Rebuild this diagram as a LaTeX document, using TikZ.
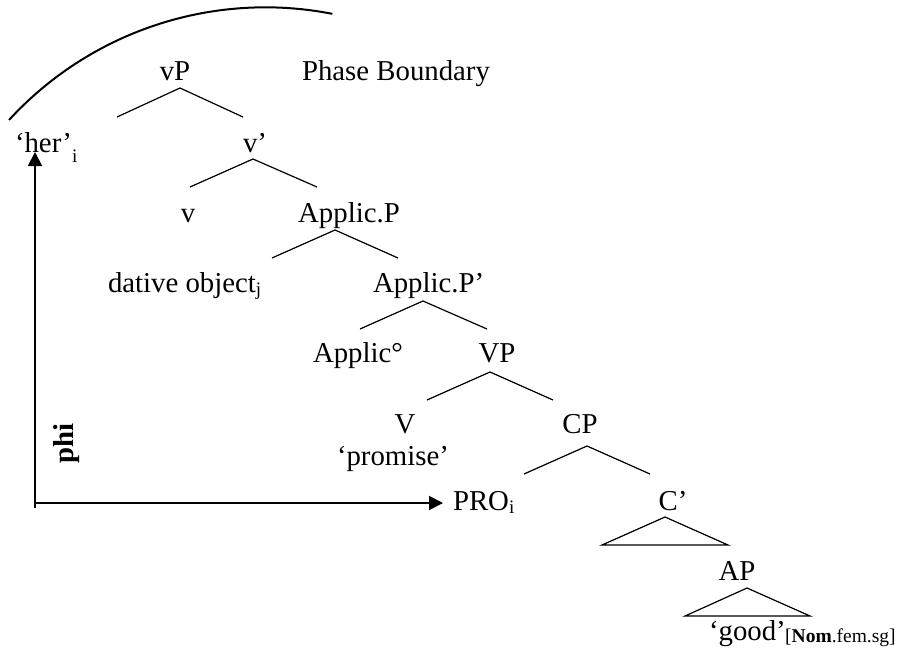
\documentclass[tikz,border=0pt]{standalone}
\usepackage{fontspec}
\setmainfont{Liberation Serif}
\usetikzlibrary{arrows.meta}
\newcommand{\subx}[2]{\raisebox{-#1pt}{\fontsize{19}{19}\selectfont #2}}
\tikzset{
  lbl/.style={inner sep=0pt, outer sep=0pt, font=\fontsize{28.8}{30}\selectfont},
  branch/.style={line width=1.2pt, line join=miter},
  bigarrow/.style={line width=2pt, -{Triangle[width=14pt,length=14pt]}},
}
\begin{document}
\begin{tikzpicture}[x=1pt,y=-1pt]
\useasboundingbox (0,0) rectangle (899,662);
% labels
\node[lbl, anchor=base] (vP) at (175,80) {vP};
\node[lbl, anchor=base west] (phase) at (302,80) {Phase Boundary};
\node[lbl, anchor=base west] (her) at (15,152) {‘her’\subx{10}{i}};
\node[lbl, anchor=base] (vbar) at (255,152) {v’};
\node[lbl, anchor=base] (v) at (188,222) {v};
\node[lbl, anchor=base] (applP) at (349,222) {Applic.P};
\node[lbl, anchor=base west] (dat) at (108,292) {dative object\subx{3}{j}};
\node[lbl, anchor=base west] (applbar) at (373,292) {Applic.P’};
\node[lbl, anchor=base west] (appl0) at (313,362) {Applic°};
\node[lbl, anchor=base] (VP) at (497,362) {VP};
\node[lbl, anchor=base] (V) at (405,433) {V};
\node[lbl, anchor=base west] (promise) at (337,465) {‘promise’};
\node[lbl, anchor=base] (CP) at (580,433) {CP};
\node[lbl, anchor=base west] (PRO) at (453,510) {PRO\subx{3}{i}};
\node[lbl, anchor=base] (Cbar) at (673,510) {C’};
\node[lbl, anchor=base] (AP) at (737,580) {AP};
\node[lbl, anchor=base west] (good) at (709,640) {‘good’};
\node[inner sep=0pt, anchor=base west, font=\fontsize{19.5}{20}\selectfont] (feat) at (785,642) {[\textbf{Nom}.fem.sg]};
\node[lbl, rotate=90, font=\fontsize{28.8}{30}\selectfont\bfseries] (phi) at (67,443) {phi};
% branch coordinates
\coordinate (vPa) at (180,88);  \coordinate (vPl) at (117,117); \coordinate (vPr) at (243,117);
\coordinate (vba) at (253,159); \coordinate (vbl) at (190,187); \coordinate (vbr) at (317,187);
\coordinate (apa) at (335,230); \coordinate (apl) at (272,258); \coordinate (apr) at (398,258);
\coordinate (aba) at (423,301); \coordinate (abl) at (360,329); \coordinate (abr) at (487,329);
\coordinate (VPa) at (490,372); \coordinate (VPl) at (427,400); \coordinate (VPr) at (553,400);
\coordinate (CPa) at (587,446); \coordinate (CPl) at (524,474); \coordinate (CPr) at (650,474);
\coordinate (Cba) at (665,517); \coordinate (Cbl) at (602,545); \coordinate (Cbr) at (728,545);
\coordinate (APa) at (747,588); \coordinate (APl) at (685,616); \coordinate (APr) at (810,616);
\draw[branch] (vPl) -- (vPa) -- (vPr);
\draw[branch] (vbl) -- (vba) -- (vbr);
\draw[branch] (apl) -- (apa) -- (apr);
\draw[branch] (abl) -- (aba) -- (abr);
\draw[branch] (VPl) -- (VPa) -- (VPr);
\draw[branch] (CPl) -- (CPa) -- (CPr);
\draw[branch] (Cbl) -- (Cba) -- (Cbr) -- cycle;
\draw[branch] (APl) -- (APa) -- (APr) -- cycle;
% arrows
\coordinate (vbot) at (35,508);
\coordinate (vtop) at (35,152);
\coordinate (hleft) at (34,503);
\coordinate (hright) at (443,503);
\draw[bigarrow] (vbot) -- (vtop);
\draw[bigarrow] (hleft) -- (hright);
% phase boundary arc
\coordinate (arcstart) at (9,120);
\draw[line width=2pt] (arcstart) arc[start angle=137.45, end angle=78.9, radius=348pt];
\end{tikzpicture}
\end{document}
